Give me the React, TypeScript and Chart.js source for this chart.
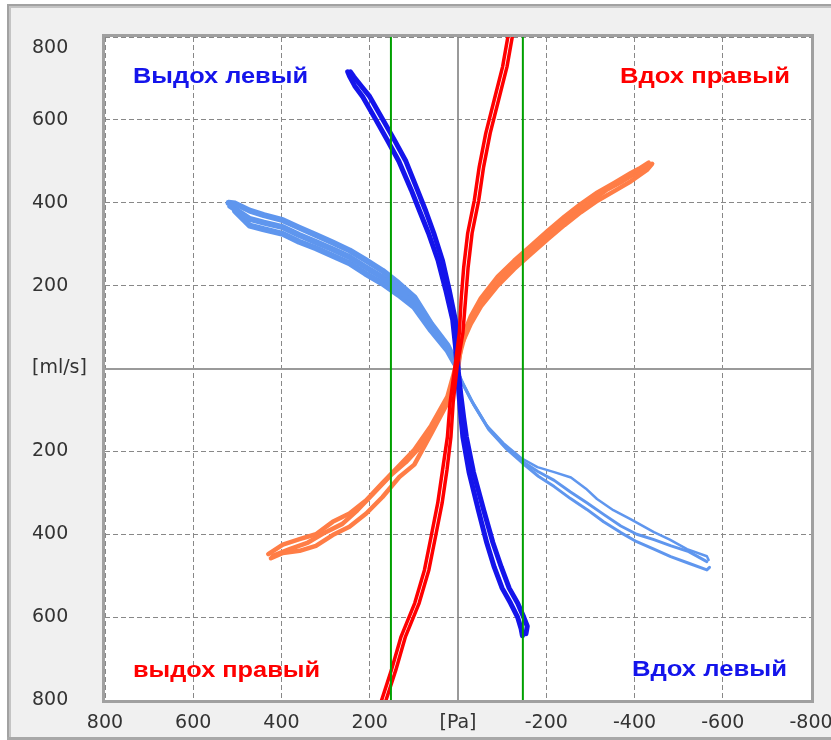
import React, { useEffect, useRef } from 'react';
import { Chart, registerables } from 'chart.js';

Chart.register(...registerables);

type P = [number, number];

// x = pressure [Pa] (axis reversed), y = flow [ml/s]
const DARK_BLUE_OUT: P[] = [
  [250, 716], [246, 706], [234, 682], [216, 656], [186, 600], [160, 551], [134, 500], [106, 431],
  [87, 380], [67, 327], [45, 260], [28, 190], [12, 117], [6, 57], [2, 0], [-2, -60], [-7, -120],
  [-11, -165], [-25, -250], [-46, -341], [-65, -420], [-82, -479], [-100, -530], [-119, -566],
  [-135, -600], [-143, -628], [-146, -645],
];
const DARK_BLUE_BACK: P[] = [
  [-154, -640], [-157, -622], [-149, -600], [-135, -566], [-116, -530], [-98, -479], [-79, -420],
  [-58, -341], [-35, -250], [-19, -165], [-13, -120], [-6, -60], [0, 0], [2, 57], [6, 117], [20, 190],
  [35, 260], [55, 327], [73, 380], [92, 431], [118, 500], [144, 551], [170, 600], [200, 656],
  [218, 680], [236, 704], [244, 716],
];

const RED_OUT: P[] = [
  [-124, 840], [-113, 800], [-101, 728], [-82, 648], [-63, 568], [-48, 486], [-37, 406], [-22, 327],
  [-13, 245], [-7, 165], [-3, 85], [7, 4], [18, -83], [24, -165], [35, -245], [46, -325], [61, -406],
  [76, -486], [98, -566], [129, -647], [151, -728], [173, -800], [185, -840],
];
const RED_BACK: P[] = [
  [175, -840], [163, -800], [141, -728], [119, -647], [88, -566], [66, -486], [51, -406], [36, -325],
  [25, -245], [16, -165], [11, -83], [2, 4], [-11, 85], [-17, 165], [-23, 245], [-32, 327], [-47, 406],
  [-58, 486], [-73, 568], [-92, 648], [-111, 728], [-123, 800], [-133, 840],
];

// light blue: dense band (upper-left half) and thin loops (lower-right half)
const LIGHT_BLUE_UPPER_A: P[] = [
  [520, 400], [505, 398], [472, 381], [440, 370], [397, 358], [360, 340], [322, 322], [284, 304],
  [246, 285], [210, 262], [171, 236], [135, 206], [99, 172], [61, 108], [24, 56], [8, 20], [0, 0],
];
const LIGHT_BLUE_UPPER_B: P[] = [
  [516, 392], [472, 361], [440, 352], [397, 341], [360, 322], [322, 305], [284, 288], [246, 269],
  [210, 245], [171, 220], [135, 191], [99, 160], [61, 100], [24, 50], [8, 17], [0, 0],
];
const LIGHT_BLUE_UPPER_C: P[] = [
  [505, 380], [472, 345], [440, 336], [397, 325], [360, 306], [322, 290], [284, 272], [246, 254],
  [210, 229], [171, 205], [135, 178], [99, 148], [61, 92], [24, 44], [8, 14], [0, 0],
];
const LIGHT_BLUE_LOWER_A: P[] = [
  [0, 0], [-7, -30], [-28, -74], [-64, -136], [-103, -180], [-143, -216], [-180, -238], [-218, -250],
  [-256, -263], [-290, -290], [-315, -315], [-352, -342], [-392, -364], [-444, -395], [-480, -413],
  [-519, -436], [-564, -453], [-568, -462],
];
const LIGHT_BLUE_LOWER_B: P[] = [
  [2, -5], [-10, -34], [-32, -80], [-68, -143], [-106, -188], [-143, -222], [-180, -248], [-218, -270],
  [-255, -298], [-292, -324], [-330, -352], [-369, -380], [-405, -400], [-444, -413], [-483, -428],
  [-523, -442], [-564, -466],
];
const LIGHT_BLUE_LOWER_C: P[] = [
  [4, -2], [-12, -38], [-35, -86], [-70, -148], [-108, -192], [-146, -228], [-182, -260], [-218, -285],
  [-255, -314], [-292, -340], [-330, -370], [-369, -396], [-405, -418], [-444, -436], [-482, -454],
  [-523, -470], [-564, -486], [-570, -480],
];

const ORANGE_A: P[] = [
  [424, -458], [397, -445], [359, -440], [322, -428], [284, -402], [246, -382], [208, -350],
  [171, -310], [133, -262], [99, -232], [61, -158], [24, -84], [8, -26], [0, 0], [-7, 55], [-29, 108],
  [-52, 150], [-90, 200], [-127, 240], [-165, 276], [-203, 312], [-241, 346], [-278, 377],
  [-316, 405], [-354, 428], [-392, 452], [-429, 480], [-440, 494],
];
const ORANGE_B: P[] = [
  [-432, 497], [-410, 482], [-392, 472], [-354, 448], [-316, 425], [-278, 397], [-241, 366],
  [-203, 332], [-165, 296], [-127, 260], [-90, 222], [-52, 170], [-29, 126], [-7, 67], [4, 10],
  [10, -14], [24, -68], [61, -138], [99, -196], [133, -234], [171, -276], [208, -318], [246, -350],
  [284, -370], [322, -400], [359, -412], [397, -425], [430, -448],
];
const ORANGE_C: P[] = [
  [420, -452], [380, -435], [340, -420], [300, -395], [262, -375], [228, -342], [190, -300],
  [150, -255], [118, -226], [80, -182], [42, -112], [15, -50], [2, -5], [-3, 30], [-18, 90],
  [-40, 135], [-70, 180], [-108, 230], [-146, 270], [-185, 305], [-222, 340], [-260, 372],
  [-297, 400], [-335, 430], [-373, 452], [-410, 476], [-435, 490],
];

const GREEN_X = [152, -147];

const AXIS_MIN = -800;
const AXIS_MAX = 800;
const AXIS_STEP = 200;
const X_ZERO_LABEL = '[Pa]';
const Y_ZERO_LABEL = '[ml/s]';

const CORNER_LABELS = ['Выдох левый', 'Вдох правый', 'выдох правый', 'Вдох левый'];

const C_DARK_BLUE = 'rgb(20,20,235)';
const C_RED = 'rgb(255,0,0)';
const C_LIGHT_BLUE = 'rgb(95,150,238)';
const C_ORANGE = 'rgb(255,125,70)';
const C_GREEN = 'rgb(0,160,0)';

const toXY = (pts: P[]) => pts.map(([x, y]) => ({ x, y }));

const framePlugin = {
  id: 'frame',
  beforeDraw(chart: any) {
    const { ctx, chartArea: ca, width, height } = chart;
    ctx.save();
    ctx.fillStyle = '#ffffff';
    ctx.fillRect(0, 0, width, height);
    ctx.fillStyle = '#f0f0f0';
    ctx.fillRect(7, 4, width - 7, height - 4);
    ctx.fillStyle = '#a2a2a2';
    ctx.fillRect(7, 4, 2, height - 4);
    ctx.fillRect(7, 4, width - 7, 2);
    ctx.fillStyle = '#c4c4c4';
    ctx.fillRect(9, 6, 2, height - 6);
    ctx.fillRect(9, 6, width - 9, 2);
    ctx.fillStyle = '#a8a8a8';
    ctx.fillRect(7, height - 3, width - 7, 3);
    ctx.fillStyle = '#ffffff';
    ctx.fillRect(ca.left, ca.top, ca.right - ca.left, ca.bottom - ca.top);
    ctx.restore();
  },
  afterDraw(chart: any) {
    const { ctx, chartArea: ca } = chart;
    ctx.save();
    ctx.strokeStyle = '#a0a0a0';
    ctx.lineWidth = 3;
    ctx.strokeRect(ca.left - 1.5, ca.top - 1.5, ca.right - ca.left + 3, ca.bottom - ca.top + 3);
    const spots = [
      { text: CORNER_LABELS[0], color: C_DARK_BLUE, left: 133, right: 308, base: 83 },
      { text: CORNER_LABELS[1], color: C_RED, left: 620, right: 790, base: 83 },
      { text: CORNER_LABELS[2], color: C_RED, left: 133, right: 320, base: 677 },
      { text: CORNER_LABELS[3], color: C_DARK_BLUE, left: 632, right: 787, base: 676 },
    ];
    ctx.font = 'bold 22px "Liberation Sans", Arial, sans-serif';
    ctx.textBaseline = 'alphabetic';
    ctx.textAlign = 'left';
    for (const s of spots) {
      const w = ctx.measureText(s.text).width;
      ctx.save();
      ctx.translate(s.left, s.base);
      ctx.scale((s.right - s.left) / w, 1);
      ctx.fillStyle = s.color;
      ctx.fillText(s.text, 0, 0);
      ctx.restore();
    }
    ctx.restore();
  },
};

const lineDs = (pts: P[], color: string, width: number) => ({
  data: toXY(pts),
  borderColor: color,
  backgroundColor: color,
  borderWidth: width,
  showLine: true,
  pointRadius: 0,
  fill: false,
  tension: 0,
  clip: 0,
  borderJoinStyle: 'round' as const,
  borderCapStyle: 'round' as const,
});

export default function App() {
  const ref = useRef<HTMLCanvasElement | null>(null);
  useEffect(() => {
    if (!ref.current) return;
    const tickFont = { family: '"DejaVu Sans", sans-serif', size: 19 };
    const gridColor = (c: any) => (c.tick && c.tick.value === 0 ? '#9a9a9a' : '#888888');
    const gridWidth = (c: any) => (c.tick && c.tick.value === 0 ? 2 : 1);
    const gridDash = (c: any) => (c.tick && c.tick.value === 0 ? [] : [5, 3]);
    const chart = new Chart(ref.current, {
      type: 'scatter',
      data: {
        datasets: [
          lineDs([[GREEN_X[0], AXIS_MIN], [GREEN_X[0], AXIS_MAX]], C_GREEN, 2),
          lineDs([[GREEN_X[1], AXIS_MIN], [GREEN_X[1], AXIS_MAX]], C_GREEN, 2),
          lineDs(RED_OUT, C_RED, 3.5),
          lineDs(RED_BACK, C_RED, 3.5),
          lineDs(DARK_BLUE_OUT, C_DARK_BLUE, 5),
          lineDs(DARK_BLUE_BACK, C_DARK_BLUE, 5),
          lineDs(ORANGE_A, C_ORANGE, 4.5),
          lineDs(ORANGE_B, C_ORANGE, 4.5),
          lineDs(ORANGE_C, C_ORANGE, 4.5),
          lineDs(LIGHT_BLUE_UPPER_A, C_LIGHT_BLUE, 6),
          lineDs(LIGHT_BLUE_UPPER_B, C_LIGHT_BLUE, 6),
          lineDs(LIGHT_BLUE_UPPER_C, C_LIGHT_BLUE, 6),
          lineDs(LIGHT_BLUE_LOWER_A, C_LIGHT_BLUE, 2.5),
          lineDs(LIGHT_BLUE_LOWER_B, C_LIGHT_BLUE, 3),
          lineDs(LIGHT_BLUE_LOWER_C, C_LIGHT_BLUE, 3),
        ],
      },
      options: {
        animation: false,
        responsive: false,
        devicePixelRatio: 1,
        events: [],
        layout: { padding: { left: 32, top: 37, right: 20, bottom: 0 } },
        plugins: { legend: { display: false }, tooltip: { enabled: false } },
        scales: {
          x: {
            type: 'linear',
            min: AXIS_MIN,
            max: AXIS_MAX,
            reverse: true,
            ticks: {
              stepSize: AXIS_STEP,
              autoSkip: false,
              maxRotation: 0,
              padding: 12,
              color: '#333333',
              font: tickFont,
              callback: (v: any) => (Number(v) === 0 ? X_ZERO_LABEL : String(v)),
            },
            grid: { color: gridColor, lineWidth: gridWidth, drawTicks: false },
            border: { display: false, dash: gridDash },
            afterFit: (s: any) => {
              s.height = 40;
              s.paddingLeft = 0;
              s.paddingRight = 0;
            },
          },
          y: {
            type: 'linear',
            min: AXIS_MIN,
            max: AXIS_MAX,
            ticks: {
              stepSize: AXIS_STEP,
              autoSkip: false,
              crossAlign: 'far',
              padding: 0,
              color: '#333333',
              font: tickFont,
              callback: (v: any) => {
                const n = Number(v);
                if (n === 0) return Y_ZERO_LABEL;
                if (n === AXIS_MAX) return ['', String(Math.abs(n))];
                return String(Math.abs(n));
              },
            },
            grid: { color: gridColor, lineWidth: gridWidth, drawTicks: false },
            border: { display: false, dash: gridDash },
            afterFit: (s: any) => {
              s.width = 73;
              s.paddingTop = 0;
              s.paddingBottom = 0;
            },
          },
        },
      } as any,
      plugins: [framePlugin],
    });
    return () => chart.destroy();
  }, []);
  return (
    <div style={{ position: 'absolute', left: 0, top: 0, width: 831, height: 740 }}>
      <canvas ref={ref} width={831} height={740} style={{ width: 831, height: 740, display: 'block' }} />
    </div>
  );
}
